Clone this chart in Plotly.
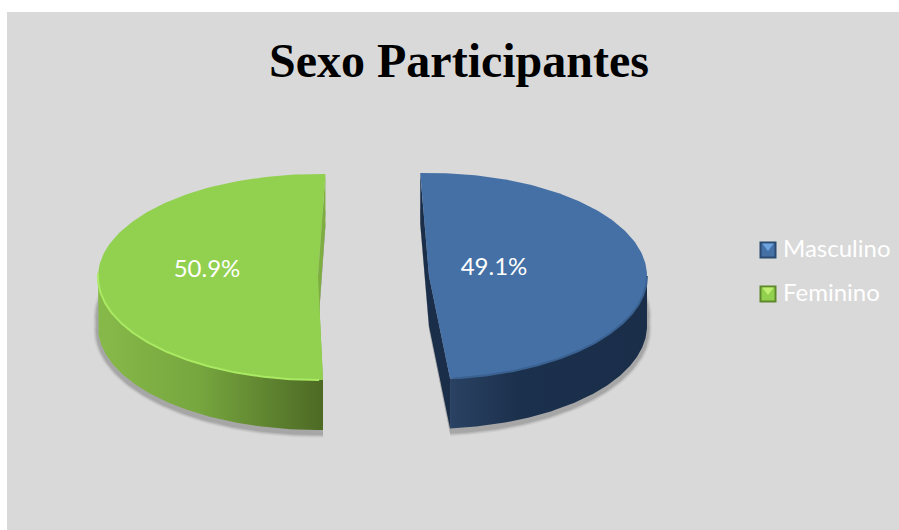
import numpy as np
import plotly.graph_objects as go

TITLE = "Sexo Participantes"
categories = ["Masculino", "Feminino"]
shares = [49.1, 50.9]
labels = ["49.1%", "50.9%"]

W, H = 899, 530
BG = "#d9d9d9"
TOP = ["#4470a6", "#92d050"]
INNER = ["#1a2e4a", "#7fae40"]
WALL = [
    [[0, "#2a4263"], [0.35, "#1b304c"], [1, "#1a2e4a"]],
    [[0, "#87b94a"], [0.45, "#76a63e"], [0.8, "#5c7f2e"], [1, "#4d6a24"]],
]
RIM = ["#3a6190", "#aaea62"]
SWATCH_EDGE = ["#2a4a72", "#5f8a2c"]
SWATCH_LIGHT = ["#6fa3e0", "#c0ee70"]

CX = [429, 318]
CY = [276, 277]
RX = [218, 220]
RY = 103
START = [-2.3, 178.7]
DEPTH = 50
LABEL_AT = [(494, 269), (207, 271)]
KEY_X = 768
KEY_TEXT_X = 783
KEY_Y = [250, 294]


def arc(i, a0, a1, dy=0, grow=0):
    t = np.radians(np.linspace(a0, a1, 160))
    return (CX[i] + (RX[i] + grow) * np.sin(t),
            CY[i] + dy - (RY + grow) * np.cos(t))


sweeps = [s / sum(shares) * 360 for s in shares]
fig = go.Figure()


def poly(xs, ys, **kw):
    fig.add_trace(go.Scatter(x=np.asarray(xs), y=np.asarray(ys), mode="lines", fill="toself",
                             showlegend=False, hoverinfo="skip", **kw))


# shadows
for i in range(2):
    a0, a1 = START[i], START[i] + sweeps[i]
    for grow, col in zip([5, 4, 3, 2], ["#d2d2d2", "#c6c6c6", "#b6b6b6", "#a6a6a6"]):
        for dy in (40, DEPTH + 3):
            x, y = arc(i, a0, a1, dy, grow)
            poly(np.r_[x, CX[i], x[0]], np.r_[y, CY[i] + dy, y[0]],
                 line=dict(color=col, width=0), fillcolor=col)

for i in range(2):
    a0, a1 = START[i], START[i] + sweeps[i]
    # inner cut faces
    xa, ya = arc(i, a0, a1)
    for end in (0, -1):
        px = [xa[end], CX[i], CX[i], xa[end]]
        py = [ya[end], CY[i], CY[i] + DEPTH, ya[end] + DEPTH]
        poly(px + [px[0]], py + [py[0]], line=dict(color=INNER[i], width=0), fillcolor=INNER[i])
    # curved wall
    w0, w1 = (90, a1) if i == 0 else (a0, 270)
    xt, yt = arc(i, w0, w1)
    xb, yb = arc(i, w0, w1, DEPTH)
    poly(np.r_[xt, xb[::-1], xt[0]], np.r_[yt, yb[::-1], yt[0]],
         line=dict(color="rgba(0,0,0,0)", width=0),
         fillgradient=dict(type="horizontal", colorscale=WALL[i]))
    # top face
    poly(np.r_[xa, CX[i], xa[0]], np.r_[ya, CY[i], ya[0]],
         line=dict(color=TOP[i], width=0), fillcolor=TOP[i])
    # rim
    rx, ry = arc(i, *((a0 + 1, 272) if i == 1 else (90, a1 - 1)))
    fig.add_trace(go.Scatter(x=rx, y=ry, mode="lines", line=dict(color=RIM[i], width=2),
                             showlegend=False, hoverinfo="skip"))

# value labels
for i in range(2):
    fig.add_trace(go.Scatter(x=[LABEL_AT[i][0]], y=[LABEL_AT[i][1]], mode="text", text=[labels[i]],
                             textfont=dict(family="Lato", size=24, color="white"),
                             textposition="middle center", showlegend=False, hoverinfo="skip"))

# key
for i in range(2):
    fig.add_trace(go.Scatter(x=[KEY_X], y=[KEY_Y[i]], mode="markers", showlegend=False, hoverinfo="skip",
                             marker=dict(symbol="square", size=15, color=TOP[i],
                                         line=dict(color=SWATCH_EDGE[i], width=2))))
    fig.add_trace(go.Scatter(x=[KEY_X], y=[KEY_Y[i] - 4], mode="markers", showlegend=False, hoverinfo="skip",
                             marker=dict(symbol="triangle-down", size=10, color=SWATCH_LIGHT[i], line_width=0)))
    fig.add_trace(go.Scatter(x=[KEY_TEXT_X], y=[KEY_Y[i] + 1], mode="text", text=[categories[i]],
                             textposition="middle right", showlegend=False, hoverinfo="skip",
                             textfont=dict(family="Lato", size=24, color="white")))

fig.update_layout(
    width=W, height=H,
    margin=dict(l=0, r=0, t=0, b=0),
    paper_bgcolor="white", plot_bgcolor="white",
    showlegend=False,
    xaxis=dict(range=[0, W], visible=False, fixedrange=True),
    yaxis=dict(range=[H, 0], visible=False, fixedrange=True),
    shapes=[dict(type="rect", layer="below", x0=7, x1=W, y0=12, y1=H, fillcolor=BG, line_width=0)],
    title=dict(text=f"<b>{TITLE}</b>", font=dict(family="Liberation Serif", size=48, color="black"),
               x=459 / W, xanchor="center", y=1 - 60 / H, yanchor="middle"),
)
fig.write_html("out.html", post_script="document.body.style.margin='0';",
               config=dict(displayModeBar=False))
